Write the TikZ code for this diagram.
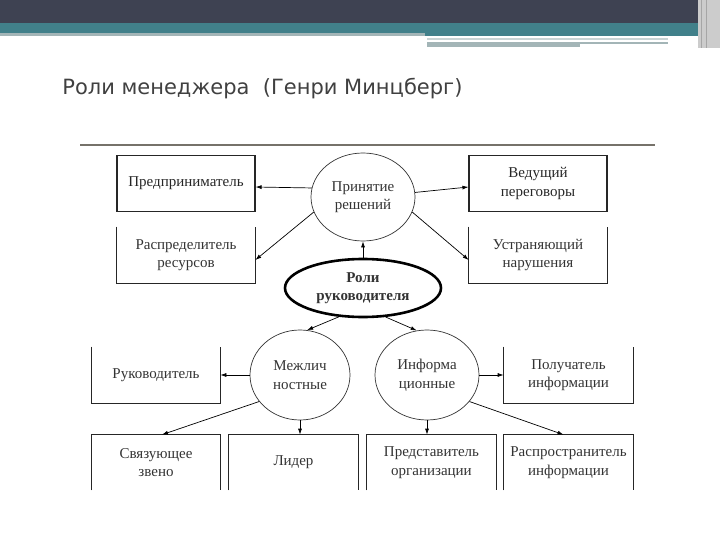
\documentclass[tikz,border=0pt]{standalone}
\usepackage{fontspec}
\setmainfont{Liberation Serif}
\newfontfamily\titlefont{DejaVu Sans}
\usetikzlibrary{arrows.meta,shapes.geometric}
\definecolor{bardark}{HTML}{3E4252}
\definecolor{barteal}{HTML}{41808A}
\definecolor{barlight}{HTML}{A3B5B7}
\definecolor{rulegray}{HTML}{76726A}
% open boxes: three sides only
\newcommand{\opentop}[1]{\draw[boxline] (#1.north west) -- (#1.south west) -- (#1.south east) -- (#1.north east);}
\newcommand{\openbottom}[1]{\draw[boxline] (#1.south west) -- (#1.north west) -- (#1.north east) -- (#1.south east);}

\begin{document}
\begin{tikzpicture}[
      x=1pt, y=-1pt,
      font=\fontsize{15}{18.5}\selectfont,
      box/.style={align=center, inner sep=0pt, text=black!80,
                  minimum height=56pt, minimum width=138pt},
      boxline/.style={line width=1.1pt, black!85},
      role/.style={ellipse, draw=black!80, line width=0.7pt, align=center,
                   inner sep=0pt, text=black!80},
      >={Latex[length=6pt,width=4pt]}, line width=0.7pt
    ]
    \useasboundingbox (0,0) rectangle (720,540);

    % --- slide header ------------------------------------------------------
    \fill[bardark] (0,0) rectangle (720,23);
    \fill[barteal] (0,23) rectangle (700,33);
    \fill[barlight] (0,33) rectangle (425,36);
    \fill[barteal] (425,33) rectangle (700,36);
    \fill[barlight!60] (427,38) rectangle (668,40);
    \fill[barlight] (427,42) rectangle (580,47);
    \fill[barlight] (580,42) rectangle (668,44);
    \fill[black!20] (698,0) rectangle (720,48);
    \draw[black!35, line width=1pt] (701,0) -- (701,48) (706,0) -- (706,48);
    \node[anchor=base west, inner sep=0pt, font=\titlefont\fontsize{21}{25}\selectfont,
          text=black!75] (title) at (62,95) {Роли менеджера\ \ (Генри Минцберг)};
    \draw[rulegray, line width=1.2pt] (80,145) -- (655,145);

    % --- central roles -----------------------------------------------------
    \node[role, line width=2.6pt, draw=black, font=\fontsize{15}{18.5}\selectfont\bfseries,
          minimum width=156pt, minimum height=58pt] (roli) at (363,288)
          {Роли\\руководителя};
    \node[role, minimum width=104pt, minimum height=88pt] (dec) at (363,197)
          {Принятие\\решений};
    \node[role, minimum width=100pt, minimum height=90pt] (mezh) at (300,375)
          {Межлич\\ностные};
    \node[role, minimum width=104pt, minimum height=90pt] (info) at (427,375)
          {Информа\\ционные};

    % --- decision roles ----------------------------------------------------
    \node[box, draw, boxline] (entr) at (186,183.5) {Предприниматель};
    \node[box] (distr) at (186,255) {Распределитель\\ресурсов};
    \node[box, draw, boxline] (negot) at (538,183.5) {Ведущий\\переговоры};
    \node[box] (dist) at (538,255) {Устраняющий\\нарушения};
    \opentop{distr}
    \opentop{dist}

    % --- interpersonal and information roles ------------------------------
    \node[box, minimum width=128pt] (ruk) at (156,375) {Руководитель};
    \node[box, minimum width=129pt] (pol) at (568.5,375) {Получатель\\информации};
    \opentop{ruk}
    \opentop{pol}
    \node[box, minimum width=128pt, minimum height=55pt] (svyaz) at (156,462.5)
          {Связующее\\звено};
    \node[box, minimum width=129pt, minimum height=55pt] (lider) at (293.5,462.5)
          {Лидер};
    \node[box, minimum width=130pt, minimum height=55pt] (pred) at (431.5,462.5)
          {Представитель\\организации};
    \node[box, minimum width=129pt, minimum height=55pt] (rasp) at (568.5,462.5)
          {Распространитель\\информации};
    \openbottom{svyaz}
    \openbottom{lider}
    \openbottom{pred}
    \openbottom{rasp}

    % --- connectors --------------------------------------------------------
    \draw[->] (roli.north) -- (dec.south);
    \draw[->] (roli.230) -- (mezh.81);
    \draw[->] (roli.308) -- (info.103);

    \draw[->] (dec.170) -- ([yshift=-3.5pt]entr.east);
    \draw[->] (dec.197) -- ([yshift=-5pt]distr.east);
    \draw[->] (dec.5)   -- ([yshift=-3.5pt]negot.west);
    \draw[->] (dec.343) -- ([yshift=-5pt]dist.west);

    \draw[->] (mezh.west) -- (ruk.east);
    \draw[->] (mezh.213) -- ([xshift=6pt]svyaz.north);
    \draw[->] (mezh.south) -- (mezh.south |- lider.north);

    \draw[->] (info.east) -- (info.east -| pol.west);
    \draw[->] (info.south) -- (info.south |- pred.north);
    \draw[->] (info.328) -- ([xshift=-5pt]rasp.north);
  \end{tikzpicture}
\end{document}
